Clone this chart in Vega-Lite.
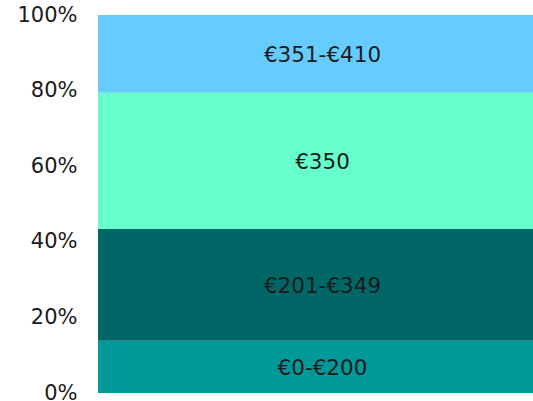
{
  "$schema": "https://vega.github.io/schema/vega-lite/v6.json",
  "width": 449,
  "height": 378,
  "autosize": {"type": "none"},
  "padding": {"left": 98, "top": 15, "right": 0, "bottom": 8},
  "background": "white",
  "config": {"view": {"stroke": null}, "font": "DejaVu Sans"},
  "data": {"values": [
    {"cat": "All", "band": "€0-€200", "share": 13.8},
    {"cat": "All", "band": "€201-€349", "share": 29.6},
    {"cat": "All", "band": "€350", "share": 36.0},
    {"cat": "All", "band": "€351-€410", "share": 20.6}
  ]},
  "layer": [
    {"mark": {"type": "bar", "width": {"band": 1}},
     "encoding": {
       "x": {"field": "cat", "type": "nominal", "axis": null, "scale": {"paddingInner": 0, "paddingOuter": 0}},
       "y": {"field": "share", "type": "quantitative", "stack": "normalize",
         "axis": {"format": ".0%", "values": [0, 0.2, 0.4, 0.6, 0.8, 1], "domain": false, "ticks": false, "grid": false, "labelFontSize": 21, "labelColor": "#1a1a1a", "labelPadding": 21, "title": null, "labelFont": "DejaVu Sans"}},
       "order": {"field": "band", "sort": "ascending"},
       "color": {"field": "band", "type": "nominal", "legend": null,
         "scale": {"domain": ["€0-€200", "€201-€349", "€350", "€351-€410"], "range": ["#009999", "#006666", "#66ffcc", "#66ccff"]}}}},
    {"transform": [
       {"stack": "share", "groupby": ["cat"], "sort": [{"field": "band", "order": "ascending"}], "offset": "normalize", "as": ["lo", "hi"]},
       {"fold": ["lo", "hi"], "as": ["edge", "pos"]},
       {"aggregate": [{"op": "mean", "field": "pos", "as": "mid"}], "groupby": ["cat", "band"]}
     ],
     "mark": {"type": "text", "fontSize": 21.5, "color": "#1a1a1a", "font": "DejaVu Sans", "baseline": "middle", "dy": 2},
     "encoding": {
       "x": {"field": "cat", "type": "nominal"},
       "y": {"field": "mid", "type": "quantitative"},
       "text": {"field": "band"}}}
  ]
}
